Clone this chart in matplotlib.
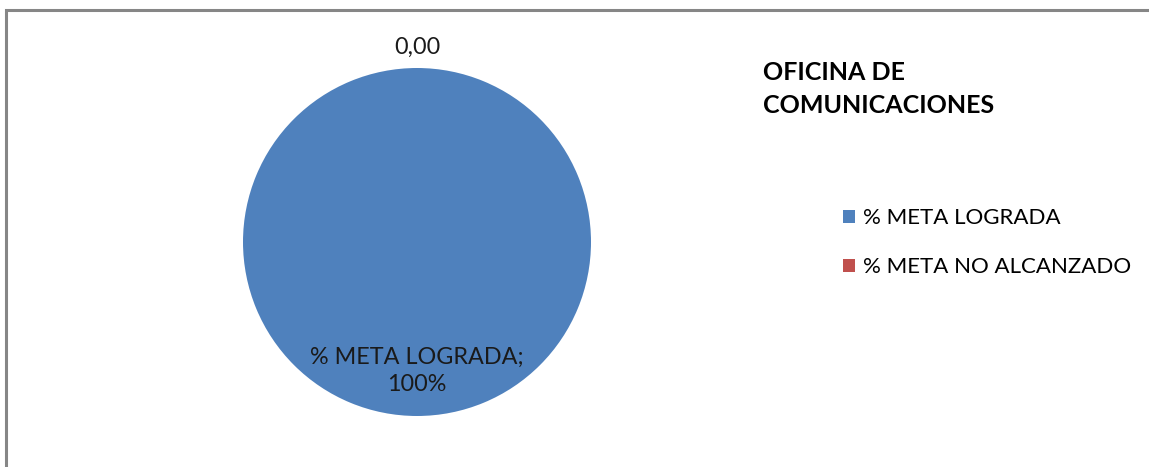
import numpy as np
import matplotlib
matplotlib.use("Agg")
import matplotlib.pyplot as plt
from matplotlib.patches import Rectangle, Patch

# ---- data ----------------------------------------------------------------------
categories = ["% META LOGRADA", "% META NO ALCANZADO"]
values = [100.0, 0.0]
label_texts = ["% META LOGRADA;\n100%", "0,00"]
colors = ["#4F81BD", "#C0504D"]
title = "OFICINA DE\nCOMUNICACIONES"

plt.rcParams["font.family"] = ["Lato", "DejaVu Sans"]

W, H = 1149, 467
fig = plt.figure(figsize=(W / 100, H / 100), dpi=100)

# chart-area border (left + top visible)
fig.add_artist(Rectangle((5.5 / W, -0.1), 1.2, (H - 9.5) / H + 0.1,
                         transform=fig.transFigure, fill=False,
                         edgecolor="#868686", linewidth=2.2))

# pie centred at (417, 242) px, radius 174 px
cx, cy, r = 417, 242, 174
ax = fig.add_axes([(cx - r) / W, (H - cy - r) / H, 2 * r / W, 2 * r / H])
wedges, _ = ax.pie(values, colors=colors, startangle=90, counterclock=False,
                   radius=1.0, wedgeprops=dict(linewidth=0))
ax.set_xlim(-1, 1)
ax.set_ylim(-1, 1)
ax.set_aspect("equal")
ax.axis("off")

# data labels: inside for the full slice, outside for the empty one
dists = [0.74, 1.12]
for w, txt, d in zip(wedges, label_texts, dists):
    ang = np.deg2rad((w.theta1 + w.theta2) / 2)
    ax.text(d * np.cos(ang), d * np.sin(ang), txt, ha="center", va="center",
            fontsize=16.8, color="#1a1a1a", linespacing=1.35)

# title
fig.text(763 / W, 1 - 61 / H, title, ha="left", va="top", fontsize=18,
         fontweight="bold", color="black", linespacing=1.55)

# legend
handles = [Patch(facecolor=c, edgecolor="none") for c in colors]
fig.legend(handles, categories, loc="upper left",
           bbox_to_anchor=(832 / W, 1 - 197 / H), frameon=False,
           fontsize=16.0, handlelength=0.55, handleheight=0.55,
           handletextpad=0.35, labelspacing=1.32, borderpad=0)

fig.savefig("out.png", dpi=100, facecolor="white")
